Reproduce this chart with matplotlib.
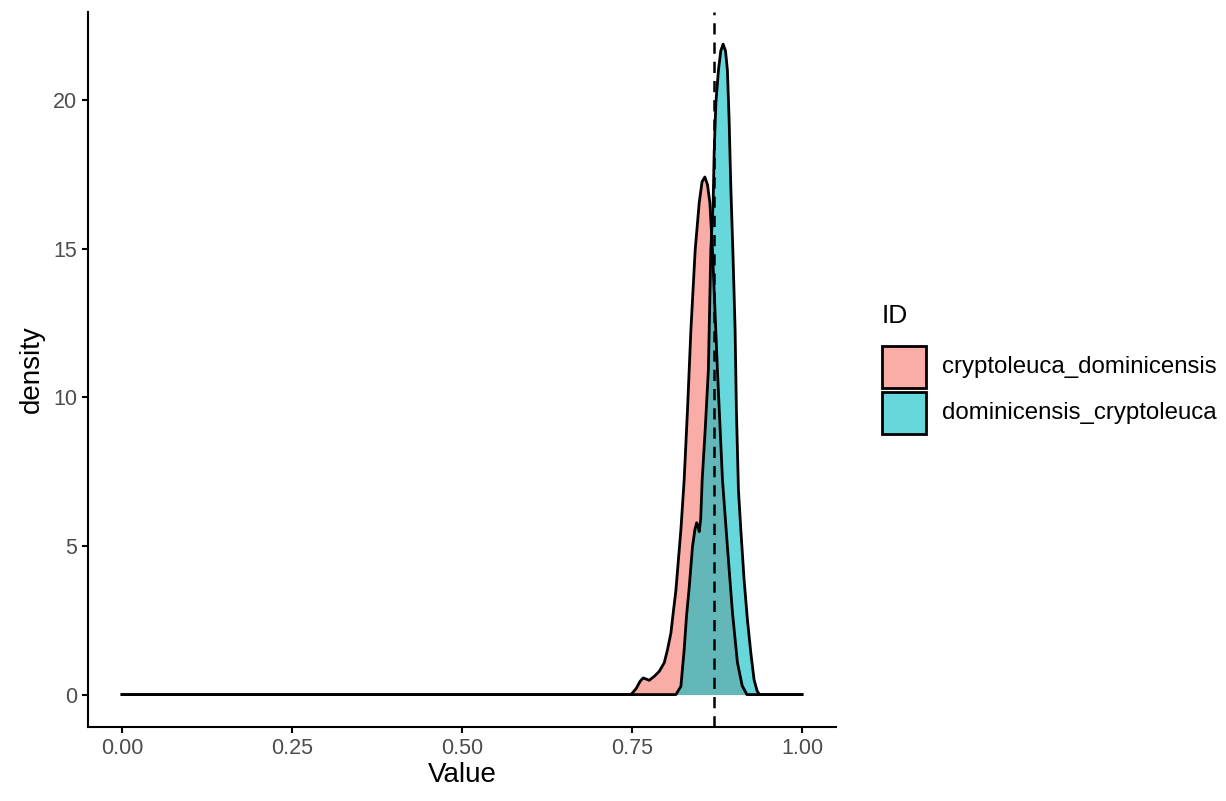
import numpy as np
import matplotlib.pyplot as plt
from matplotlib.patches import Rectangle

plt.rcParams['font.family'] = ['Liberation Sans', 'DejaVu Sans']

# density curves (x = Value, y = density)
cd_x = [0.0, 0.7485, 0.7560, 0.7620, 0.7665, 0.7710, 0.7753, 0.7830, 0.7900, 0.7974,
        0.8022, 0.8072, 0.8106, 0.8145, 0.8219, 0.8267, 0.8316, 0.8366, 0.8429,
        0.8488, 0.8530, 0.8571, 0.8610, 0.8645, 0.8683, 0.8756, 0.8830, 0.8903,
        0.8977, 0.9050, 0.9120, 0.9190, 1.0]
cd_y = [0.0, 0.0, 0.20, 0.45, 0.56, 0.52, 0.48, 0.62, 0.78, 1.07,
        1.51, 2.07, 2.75, 3.50, 5.55, 7.23, 9.58, 12.27, 14.96,
        16.54, 17.25, 17.41, 17.15, 16.54, 14.96, 10.92, 7.23, 4.97,
        2.76, 1.08, 0.30, 0.0, 0.0]

dc_x = [0.0, 0.8145, 0.8219, 0.8267, 0.8301, 0.8341, 0.8389, 0.8425, 0.8451, 0.8470,
        0.8488, 0.8510, 0.8532, 0.8576, 0.8623, 0.8659, 0.8693, 0.8708, 0.8733,
        0.8771, 0.8805, 0.8840, 0.8875, 0.8903, 0.8928, 0.8953, 0.8985, 0.9016,
        0.9035, 0.9065, 0.9100, 0.9148, 0.9197, 0.9247, 0.9295, 0.9340, 0.9375, 1.0]
dc_y = [0.0, 0.0, 0.28, 1.51, 2.63, 3.60, 4.97, 5.55, 5.78, 5.65,
        5.48, 5.90, 7.23, 8.90, 10.92, 14.96, 16.54, 18.22, 19.90,
        21.00, 21.65, 21.88, 21.65, 21.00, 19.33, 17.08, 14.79, 12.27,
        9.58, 6.89, 5.55, 3.87, 2.52, 1.41, 0.50, 0.12, 0.0, 0.0]

labels = ["cryptoleuca_dominicensis", "dominicensis_cryptoleuca"]
colors = ["#F8766D", "#00BFC4"]
vline = 0.8708

fig = plt.figure(figsize=(12.26, 8.01), dpi=100)
ax = fig.add_axes([0.0718, 0.0924, 0.6101, 0.8926])

series = [(cd_x, cd_y), (dc_x, dc_y)]
for (xs, ys), c in zip(series, colors):
    ax.fill_between(xs, ys, 0, color=c, alpha=0.6, linewidth=0)
    ax.plot(xs, ys, color="black", linewidth=2.0, solid_joinstyle="round")

ax.axvline(vline, color="black", linestyle=(0, (4.5, 3.2)), linewidth=1.8)

ax.set_xlim(-0.05, 1.05)
ax.set_ylim(-1.09, 22.96)
ax.set_xticks([0, 0.25, 0.5, 0.75, 1.0])
ax.set_xticklabels(["0.00", "0.25", "0.50", "0.75", "1.00"])
ax.set_yticks([0, 5, 10, 15, 20])
for s in ["top", "right"]:
    ax.spines[s].set_visible(False)
for s in ["left", "bottom"]:
    ax.spines[s].set_linewidth(1.5)
ax.tick_params(axis="both", length=4.5, width=1.5, colors="black",
               labelcolor="#4D4D4D", labelsize=15.5, pad=3.5)
ax.set_xlabel("Value", fontsize=20, labelpad=2)
ax.set_ylabel("density", fontsize=20, labelpad=6)

# legend drawn by hand in figure coordinates
fig.text(0.7194, 0.6055, "ID", fontsize=19, va="center", ha="left")
key_y = [0.5156, 0.4582]
for y0, c, lab in zip(key_y, colors, labels):
    fig.add_artist(Rectangle((0.7194, y0), 0.0359, 0.0524, transform=fig.transFigure,
                             facecolor=c, alpha=0.6, edgecolor="none"))
    fig.add_artist(Rectangle((0.7194, y0), 0.0359, 0.0524, transform=fig.transFigure,
                             facecolor="none", edgecolor="black", linewidth=2.0))
    fig.text(0.7684, y0 + 0.0262, lab, fontsize=17.3, va="center", ha="left")

fig.savefig("out.png", dpi=100)
